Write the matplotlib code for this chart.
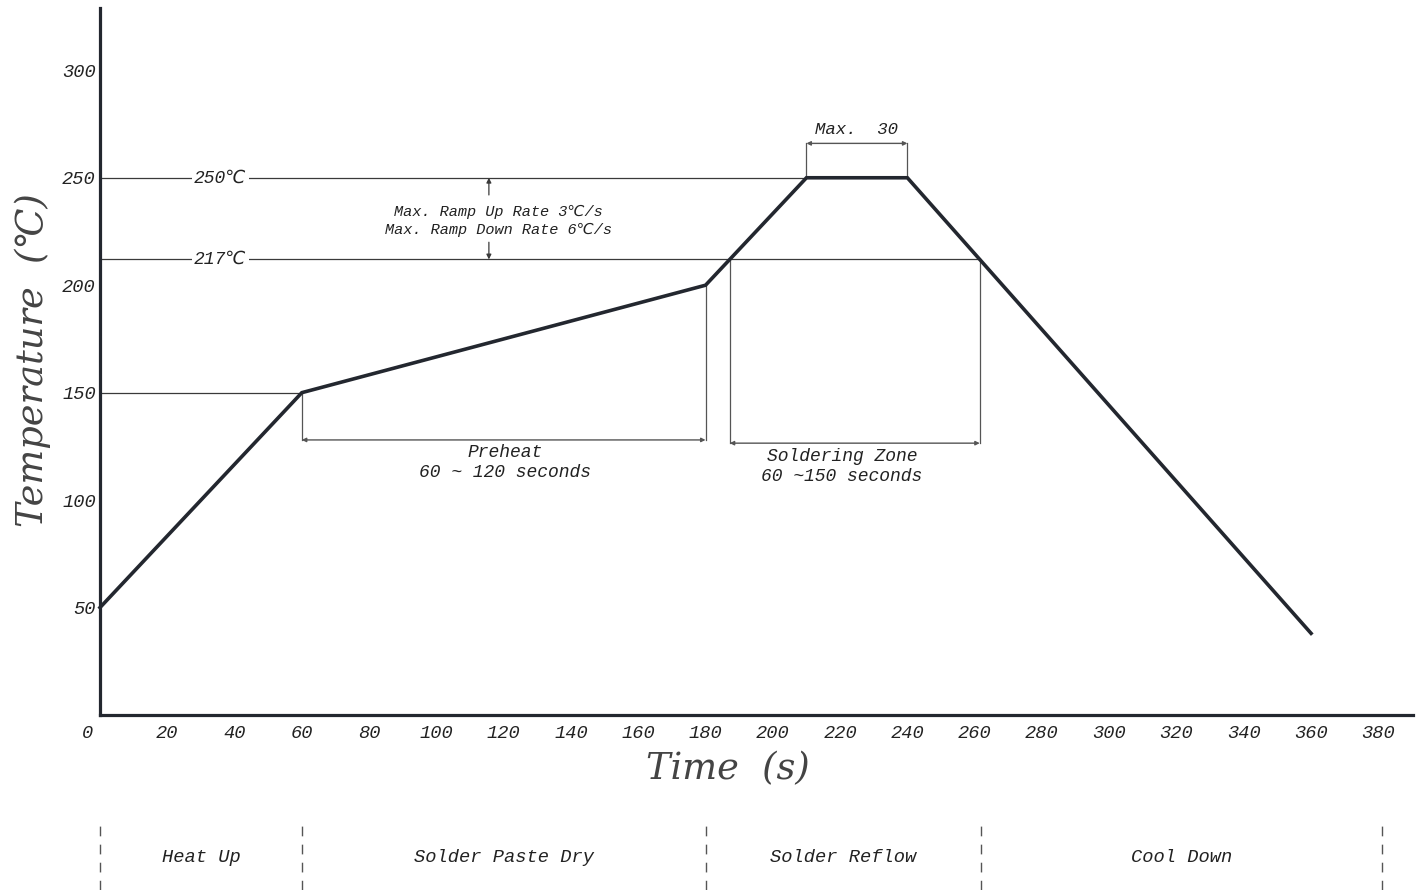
import numpy as np
import matplotlib
matplotlib.use("Agg")
import matplotlib.pyplot as plt
from matplotlib.transforms import ScaledTranslation

# ---- data ----
time_s = [0, 60, 180, 210, 240, 360]
temp_c = [50, 150, 200, 250, 250, 38]
x_ticks = list(range(0, 381, 20))
y_ticks = [50, 100, 150, 200, 250, 300]
ref_line_y = [250, 212]
ref_labels = ["250℃", "217℃"]
preheat_range = [60, 180]
peak_range = [210, 240]
phase_bounds = [0, 60, 180, 262, 381]
phase_names = ["Heat Up", "Solder Paste Dry", "Solder Reflow", "Cool Down"]

MONO = ["Liberation Mono", "DejaVu Sans Mono", "DejaVu Sans"]
SERIF = ["DejaVu Serif"]
DARK = "#23272f"
THIN = "#3a3a3a"

fig = plt.figure(figsize=(14.23, 8.90), dpi=100)
ax = fig.add_axes([100/1423, 1-715/890, (1413-100)/1423, (715-8)/890])
ax.set_xlim(0, 390.3)
ax.set_ylim(0, 329)

for s in ["top", "right"]:
    ax.spines[s].set_visible(False)
for s in ["left", "bottom"]:
    ax.spines[s].set_linewidth(2.3)
    ax.spines[s].set_color(DARK)

ax.set_xticks(x_ticks)
ax.set_yticks(y_ticks)
ax.tick_params(length=0, pad=7, labelsize=13.5, colors="#222222")
for lab in ax.get_xticklabels() + ax.get_yticklabels():
    lab.set_fontfamily(MONO)
    lab.set_fontstyle("italic")
ax.tick_params(axis="y", pad=3)
# shift the "0" label to the left
xl = ax.get_xticklabels()
xl[0].set_transform(xl[0].get_transform() + ScaledTranslation(-12/100, 0, fig.dpi_scale_trans))

# profile
ax.plot(time_s, temp_c, color=DARK, lw=2.6, solid_joinstyle="miter", zorder=5, clip_on=False)

# crossing points with the 217 line
rise_x = np.interp(ref_line_y[1], [temp_c[2], temp_c[3]], [time_s[2], time_s[3]])
fall_x = np.interp(ref_line_y[1], [temp_c[5], temp_c[4]], [time_s[5], time_s[4]])

# reference horizontal lines
ax.plot([0, time_s[3]], [ref_line_y[0]] * 2, color=THIN, lw=0.9, zorder=2)
ax.plot([0, fall_x], [ref_line_y[1]] * 2, color=THIN, lw=0.9, zorder=2)
ax.plot([0, time_s[1]], [temp_c[1]] * 2, color=THIN, lw=0.9, zorder=2)
for yv, lab in zip(ref_line_y, ref_labels):
    ax.text(35.7, yv, lab, ha="center", va="center", fontsize=13, style="italic",
            family=MONO, color="#222222", zorder=3,
            bbox=dict(facecolor="white", edgecolor="none", pad=1.5))

# ramp arrows
ramp_x = 115.6
ax.annotate("", xy=(ramp_x, 250), xytext=(ramp_x, 242),
            arrowprops=dict(arrowstyle="-|>", color=THIN, lw=0.9, mutation_scale=7, shrinkA=0, shrinkB=0))
ax.annotate("", xy=(ramp_x, 212), xytext=(ramp_x, 220),
            arrowprops=dict(arrowstyle="-|>", color=THIN, lw=0.9, mutation_scale=7, shrinkA=0, shrinkB=0))
ax.text(118.5, 234, "Max. Ramp Up Rate 3℃/s", ha="center", va="center", fontsize=11,
        style="italic", family=MONO, color="#222222")
ax.text(118.5, 225.5, "Max. Ramp Down Rate 6℃/s", ha="center", va="center", fontsize=11,
        style="italic", family=MONO, color="#222222")

def bracket(x0, x1, y):
    ax.annotate("", xy=(x0, y), xytext=(x1, y),
                arrowprops=dict(arrowstyle="<|-|>", color="#555555", lw=1.0,
                                mutation_scale=6, shrinkA=0, shrinkB=0))

# preheat bracket
pre_y = 128
ax.plot([preheat_range[0]] * 2, [temp_c[1], pre_y], color="#555555", lw=0.9)
ax.plot([preheat_range[1]] * 2, [temp_c[2], pre_y], color="#555555", lw=0.9)
bracket(preheat_range[0], preheat_range[1], pre_y)
ax.text(120.5, 122.3, "Preheat", ha="center", va="center", fontsize=13,
        style="italic", family=MONO, color="#222222")
ax.text(120.5, 112.8, "60 ~ 120 seconds", ha="center", va="center", fontsize=13,
        style="italic", family=MONO, color="#222222")

# soldering zone bracket
sz_y = 126.5
ax.plot([rise_x] * 2, [ref_line_y[1], sz_y], color="#555555", lw=0.9)
ax.plot([fall_x] * 2, [ref_line_y[1], sz_y], color="#555555", lw=0.9)
bracket(rise_x, fall_x, sz_y)
ax.text(220.5, 120.5, "Soldering Zone", ha="center", va="center", fontsize=13,
        style="italic", family=MONO, color="#222222")
ax.text(220.5, 111, "60 ~150 seconds", ha="center", va="center", fontsize=13,
        style="italic", family=MONO, color="#222222")

# max 30 bracket
top_y = 266
ax.plot([peak_range[0]] * 2, [250, top_y], color="#555555", lw=0.9)
ax.plot([peak_range[1]] * 2, [250, top_y], color="#555555", lw=0.9)
bracket(peak_range[0], peak_range[1], top_y)
ax.text(225, 272.5, "Max.  30", ha="center", va="center", fontsize=12.5,
        style="italic", family=MONO, color="#222222")

# axis labels
ax.text(186.5, -25, "Time  (s)", ha="center", va="center", fontsize=26.5,
        style="italic", family=SERIF, color="#444444", fontweight="light")
ax.text(-20, 165, "Temperature  (℃)", ha="center", va="center", rotation=90,
        fontsize=26.5, style="italic", family=SERIF, color="#444444", fontweight="light")

# phase band
bx = fig.add_axes([100/1423, 0, (1413-100)/1423, 70/890])
bx.set_xlim(0, 390.3)
bx.set_ylim(0, 1)
bx.axis("off")
for xb in phase_bounds:
    bx.plot([xb, xb], [0, 1], color="#555555", lw=1.0, linestyle=(0, (7, 6)), clip_on=False)
for i, name in enumerate(phase_names):
    xm = (phase_bounds[i] + phase_bounds[i + 1]) / 2
    bx.text(xm, 0.47, name, ha="center", va="center", fontsize=13.5,
            style="italic", family=MONO, color="#222222")

fig.savefig("out.png", dpi=100)
